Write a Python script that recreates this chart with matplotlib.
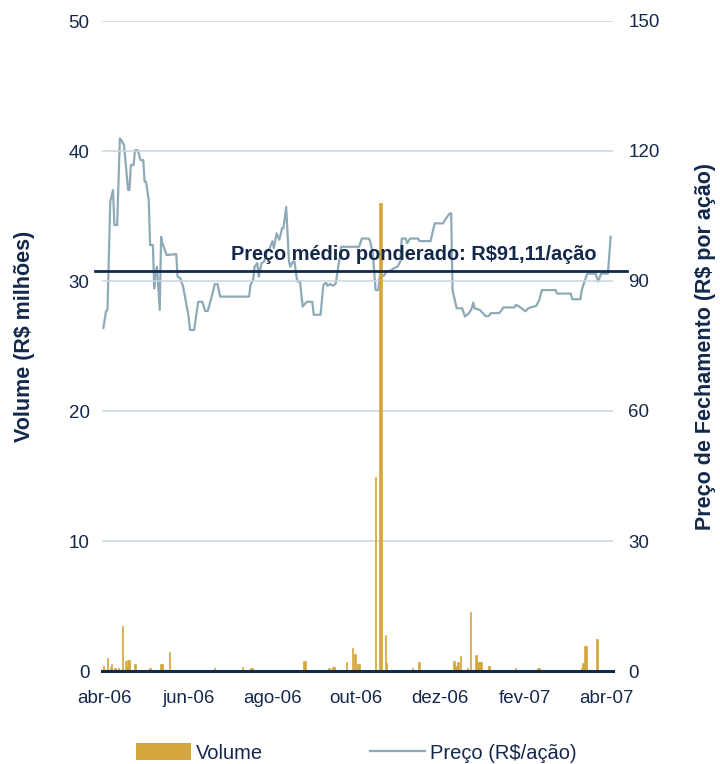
import matplotlib
matplotlib.use("Agg")
import matplotlib.pyplot as plt
import matplotlib.transforms as mtransforms
from matplotlib.patches import Patch
from matplotlib.lines import Line2D
import pandas as pd

plt.rcParams['font.family'] = ['Liberation Sans', 'DejaVu Sans']

# ---------------- data ----------------
price_dates = [
    "2006-03-31", "2006-04-02", "2006-04-03", "2006-04-05", "2006-04-07", "2006-04-08",
    "2006-04-10", "2006-04-12", "2006-04-13", "2006-04-15", "2006-04-18", "2006-04-19",
    "2006-04-20", "2006-04-22", "2006-04-23", "2006-04-25", "2006-04-27", "2006-04-29",
    "2006-04-30", "2006-05-01", "2006-05-03", "2006-05-04", "2006-05-06", "2006-05-07",
    "2006-05-08", "2006-05-09", "2006-05-11", "2006-05-12", "2006-05-13", "2006-05-16",
    "2006-05-23", "2006-05-24", "2006-05-26", "2006-05-28", "2006-05-30", "2006-06-01",
    "2006-06-02", "2006-06-05", "2006-06-08", "2006-06-11", "2006-06-13", "2006-06-15",
    "2006-06-19", "2006-06-20", "2006-06-22", "2006-06-24", "2006-07-15", "2006-07-16",
    "2006-07-18", "2006-07-19", "2006-07-21", "2006-07-22", "2006-07-24", "2006-07-26",
    "2006-07-28", "2006-07-30", "2006-08-01", "2006-08-02", "2006-08-04", "2006-08-06",
    "2006-08-08", "2006-08-09", "2006-08-11", "2006-08-13", "2006-08-14", "2006-08-16",
    "2006-08-17", "2006-08-19", "2006-08-21", "2006-08-23", "2006-08-24", "2006-08-26",
    "2006-08-30", "2006-08-31", "2006-09-05", "2006-09-07", "2006-09-09", "2006-09-10",
    "2006-09-12", "2006-09-14", "2006-09-16", "2006-09-19", "2006-09-20", "2006-10-03",
    "2006-10-05", "2006-10-10", "2006-10-11", "2006-10-13", "2006-10-15", "2006-10-17",
    "2006-10-18", "2006-10-21", "2006-10-23", "2006-10-26", "2006-10-28", "2006-10-31",
    "2006-11-02", "2006-11-03", "2006-11-06", "2006-11-07", "2006-11-09", "2006-11-15",
    "2006-11-16", "2006-11-24", "2006-11-27", "2006-12-03", "2006-12-06", "2006-12-08",
    "2006-12-09", "2006-12-10", "2006-12-13", "2006-12-17", "2006-12-19", "2006-12-22",
    "2006-12-24", "2006-12-25", "2006-12-26", "2006-12-30", "2007-01-01", "2007-01-03",
    "2007-01-05", "2007-01-07", "2007-01-13", "2007-01-14", "2007-01-16", "2007-01-24",
    "2007-01-25", "2007-01-28", "2007-02-01", "2007-02-03", "2007-02-07", "2007-02-09",
    "2007-02-11", "2007-02-13", "2007-02-23", "2007-02-24", "2007-03-06", "2007-03-07",
    "2007-03-13", "2007-03-14", "2007-03-16", "2007-03-18", "2007-03-19", "2007-03-24",
    "2007-03-26", "2007-03-28", "2007-04-02", "2007-04-04",
]
price_values = [
    79.2, 83.1, 83.3, 108.3, 111.0, 102.9,
    102.9, 122.9, 122.5, 121.4, 111.0, 111.0,
    116.8, 116.8, 120.2, 120.2, 117.9, 117.9,
    112.9, 112.9, 108.7, 98.3, 98.3, 88.3,
    91.7, 93.3, 83.3, 100.2, 98.7, 96.0,
    96.2, 91.0, 90.6, 88.7, 85.2, 81.8,
    78.7, 78.7, 85.2, 85.2, 83.1, 83.1,
    87.9, 89.3, 89.3, 86.4, 86.4, 89.1,
    90.4, 93.3, 94.1, 91.0, 94.1, 94.5,
    96.8, 97.6, 99.2, 97.6, 101.0, 99.5,
    102.2, 102.2, 107.1, 94.5, 93.3, 94.5,
    94.5, 89.9, 89.9, 84.1, 84.5, 85.2,
    85.2, 82.2, 82.2, 89.1, 89.6, 88.9,
    89.3, 88.9, 89.4, 95.6, 97.9, 97.9,
    99.8, 99.8, 99.2, 96.4, 87.9, 87.9,
    91.0, 91.2, 92.2, 92.4, 92.9, 93.3,
    94.5, 99.8, 99.8, 98.7, 99.8, 99.8,
    99.2, 99.2, 103.3, 103.3, 104.8, 105.6,
    105.6, 87.9, 83.7, 83.7, 81.8, 82.6,
    83.7, 85.0, 83.7, 83.3, 82.6, 81.9,
    81.9, 82.6, 82.6, 83.0, 83.9, 83.9,
    84.5, 84.0, 83.0, 83.7, 84.1, 84.3,
    85.6, 87.9, 87.9, 87.1, 87.1, 85.8,
    85.8, 87.9, 89.9, 91.7, 91.7, 91.7,
    89.9, 91.7, 91.7, 100.2,
]

volume_dates = [
    "2006-03-31", "2006-04-03", "2006-04-05", "2006-04-06", "2006-04-08", "2006-04-09",
    "2006-04-11", "2006-04-14", "2006-04-16", "2006-04-17", "2006-04-18", "2006-04-19",
    "2006-04-23", "2006-05-04", "2006-05-12", "2006-05-13", "2006-05-18", "2006-05-25",
    "2006-06-20", "2006-07-10", "2006-07-16", "2006-07-17", "2006-08-15", "2006-08-24",
    "2006-08-25", "2006-09-11", "2006-09-14", "2006-09-15", "2006-09-24", "2006-09-28",
    "2006-09-30", "2006-10-02", "2006-10-03", "2006-10-13", "2006-10-15", "2006-10-18",
    "2006-10-19", "2006-10-22", "2006-10-23", "2006-10-25", "2006-11-11", "2006-11-15",
    "2006-11-16", "2006-12-11", "2006-12-12", "2006-12-13", "2006-12-14", "2006-12-16",
    "2006-12-21", "2006-12-23", "2006-12-27", "2006-12-28", "2006-12-29", "2006-12-30",
    "2006-12-31", "2007-01-02", "2007-01-05", "2007-01-06", "2007-01-09", "2007-01-14",
    "2007-01-18", "2007-01-25", "2007-01-28", "2007-02-01", "2007-02-08", "2007-02-10",
    "2007-02-11", "2007-02-13", "2007-02-14", "2007-03-03", "2007-03-07", "2007-03-12",
    "2007-03-14", "2007-03-15", "2007-03-16", "2007-03-17", "2007-03-25", "2007-03-30",
    "2007-03-31",
]
volume_values = [
    0.38, 0.97, 0.30, 0.54, 0.20, 0.20,
    0.20, 3.46, 0.77, 0.30, 0.85, 0.85,
    0.54, 0.20, 0.54, 0.54, 1.46, 0.10,
    0.20, 0.30, 0.20, 0.20, 0.10, 0.77,
    0.77, 0.20, 0.30, 0.30, 0.70, 1.77,
    1.30, 0.54, 0.54, 0.10, 14.9, 36.0,
    36.0, 2.80, 0.64, 0.10, 0.20, 0.70,
    0.70, 0.77, 0.38, 0.38, 0.70, 1.15,
    0.20, 4.54, 1.23, 0.70, 0.70, 0.70,
    0.70, 0.10, 0.38, 0.38, 0.10, 0.10,
    0.10, 0.20, 0.10, 0.10, 0.10, 0.20,
    0.20, 0.10, 0.10, 0.10, 0.05, 0.05,
    0.20, 0.64, 1.92, 1.92, 2.46, 0.10,
    0.10,
]

tick_dates = ["2006-04-01", "2006-06-01", "2006-08-01", "2006-10-01",
              "2006-12-01", "2007-02-01", "2007-04-01"]
tick_labels = ["abr-06", "jun-06", "ago-06", "out-06", "dez-06", "fev-07", "abr-07"]

vol_ticks = [0, 10, 20, 30, 40, 50]
price_ticks = [0, 30, 60, 90, 120, 150]

avg_line_level = 92.3
avg_text = "Preço médio ponderado: R$91,11/ação"

# ---------------- style ----------------
NAVY = "#14284b"
GOLD = "#d4a63d"
PRICE_C = "#8eaab7"
GRID_C = "#c9d5dd"

fig = plt.figure(figsize=(7.2, 7.64), dpi=100)
ax = fig.add_axes([102/720, 1-671/764, 511/720, 650/764])
ax2 = ax.twinx()

pd_price = pd.to_datetime(price_dates)
pd_vol = pd.to_datetime(volume_dates)

ax2.plot(pd_price, price_values, color=PRICE_C, lw=1.6, zorder=2)
ax.bar(pd_vol, volume_values, width=1.0, color=GOLD, edgecolor=GOLD, linewidth=0.5,
       zorder=3)

ax.set_zorder(ax2.get_zorder() + 1)
ax.patch.set_visible(False)

ax.set_ylim(0, 50)
ax2.set_ylim(0, 150)
ax.set_xlim(pd.Timestamp("2006-03-30"), pd.Timestamp("2007-04-05 17:00"))

ax.set_yticks(vol_ticks)
ax2.set_yticks(price_ticks)
ax.set_xticks(pd.to_datetime(tick_dates))
ax.set_xticklabels(tick_labels)

for a in (ax, ax2):
    for s in a.spines.values():
        s.set_visible(False)
    a.tick_params(length=0, colors=NAVY, labelsize=13.5)
ax.tick_params(axis='y', pad=9)
ax2.tick_params(axis='y', pad=11)
ax.tick_params(axis='x', pad=14)

for v in vol_ticks[1:]:
    ax.axhline(v, color=GRID_C, lw=1.1, zorder=1)
ax.axhline(0, color=NAVY, lw=2.2, zorder=4, clip_on=False)

# average price line on the price scale
trans = mtransforms.blended_transform_factory(ax.transAxes, ax2.transData)
ax.plot([-0.0137, 1.027], [avg_line_level, avg_line_level], color=NAVY, lw=2.0,
        transform=trans, clip_on=False, zorder=5)
ax.text(0.61, 96.2, avg_text, transform=trans, ha='center', va='center',
        fontsize=14.4, fontweight='bold', color=NAVY, zorder=6)

fig.text(25/720, 1-336/764, "Volume (R$ milhões)", rotation=90, ha='center', va='center',
         fontsize=15.5, fontweight='bold', color=NAVY)
fig.text(705/720, 1-346/764, "Preço de Fechamento (R$ por ação)", rotation=90,
         ha='center', va='center', fontsize=15.5, fontweight='bold', color=NAVY)

handles = [Patch(facecolor=GOLD, edgecolor='none', label="Volume"),
           Line2D([], [], color=PRICE_C, lw=1.6, label="Preço (R$/ação)")]
leg = fig.legend(handles=handles, loc='center', bbox_to_anchor=(0.495, 0.0144), ncol=2,
                 frameon=False, fontsize=14.5, handlelength=2.75, handleheight=0.85,
                 handletextpad=0.25, columnspacing=5.3, borderpad=0)
for t in leg.get_texts():
    t.set_color(NAVY)

fig.savefig("out.png", dpi=100)
